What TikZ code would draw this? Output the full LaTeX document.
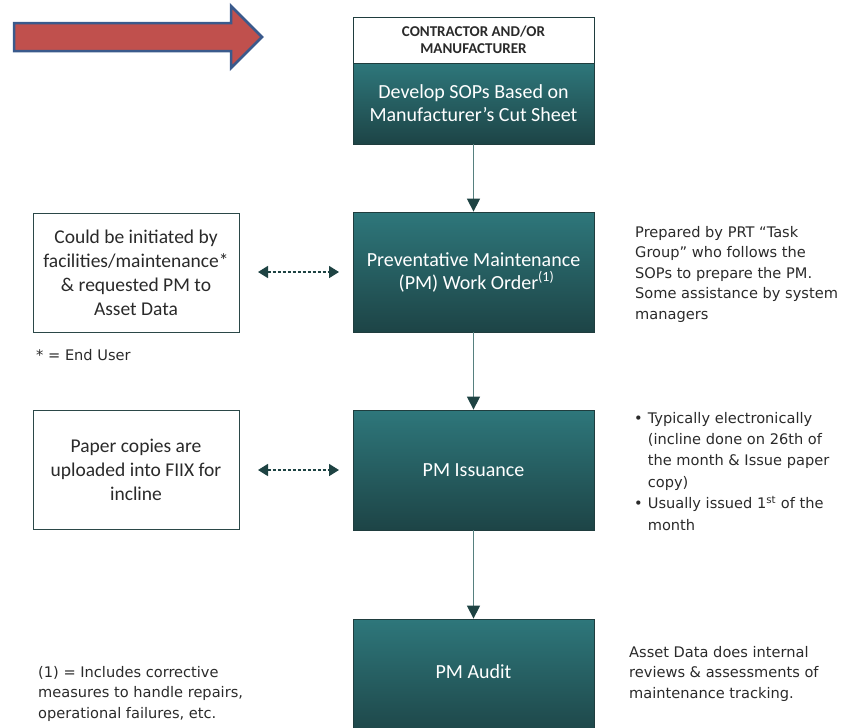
\documentclass[tikz,border=0pt]{standalone}
\usepackage{fontspec}
\setmainfont{Carlito}
\newfontfamily\boxfont{Carlito}
\newfontfamily\notefont{DejaVu Sans}
\usetikzlibrary{arrows.meta,positioning}
\definecolor{tealtop}{HTML}{2E777B}
\definecolor{tealbot}{HTML}{1D4446}
\definecolor{tealedge}{HTML}{1F3D3E}
\definecolor{tipc}{HTML}{1E4343}
\definecolor{linec}{HTML}{56807F}
\definecolor{boxedge}{HTML}{2B4848}
\definecolor{notec}{HTML}{2A2A2A}
\definecolor{arrred}{HTML}{C0504D}
\definecolor{arrblue}{HTML}{3A5A8C}
\tikzset{
  tealbox/.style={draw=tealedge, line width=0.8pt, top color=tealtop, bottom color=tealbot,
    minimum width=241pt, inner sep=0pt, text=white, align=center,
    font=\boxfont\fontsize{20}{23}\selectfont},
  headbox/.style={draw=tealedge, line width=0.8pt, fill=white, minimum width=241pt,
    minimum height=46pt, inner sep=0pt, align=center, text=notec,
    font=\boxfont\bfseries\fontsize{15}{17.5}\selectfont},
  sidebox/.style={draw=boxedge, line width=1pt, fill=white, minimum width=206pt,
    minimum height=119pt, inner sep=0pt, align=center, text=notec,
    font=\boxfont\fontsize{19.5}{24}\selectfont},
  note/.style={anchor=base west, inner sep=0pt, text=notec,
    font=\notefont\fontsize{14.6}{20.5}\selectfont},
  flow/.style={draw=linec, line width=1.4pt, -{Triangle[width=13pt,length=13pt,color=tipc]}},
  link/.style={draw=tipc, line width=1.6pt, dash pattern=on 3pt off 2pt,
    {Triangle[width=12pt,length=10pt,color=tipc]}-{Triangle[width=12pt,length=10pt,color=tipc]}}
}
\newcommand{\nbul}{\textbullet}
\begin{document}
\begin{tikzpicture}[x=1pt,y=-1pt]
\useasboundingbox (0,0) rectangle (854,728);
\clip (0,0) rectangle (854,728);
% big arrow
\draw[draw=arrblue, fill=arrred, line width=2.5pt, line join=miter]
  (14,23) -- (231,23) -- (231,6) -- (262,37) -- (231,68) -- (231,51) -- (14,51) -- cycle;
% main column
\node[headbox] (head) at (473.5,40) {CONTRACTOR AND/OR\\MANUFACTURER};
\node[tealbox, minimum height=81pt] (sop) at (473.5,103.5) {Develop SOPs Based on\\Manufacturer’s Cut Sheet};
\node[tealbox, minimum height=120pt] (pmwo) at (473.5,272) {Preventative Maintenance\\\hspace*{6pt}(PM) Work Order\textsuperscript{(1)}};
\node[tealbox, minimum height=120pt] (iss) at (473.5,470) {PM Issuance};
\node[tealbox, minimum height=120pt] (audit) at (473.5,679) {};
\node[text=white, inner sep=0pt, font=\boxfont\fontsize{20}{23}\selectfont] (audittxt) at (473.5,672) {PM Audit};
\draw[flow] (sop.south) -- (pmwo.north);
\draw[flow] (pmwo.south) -- (iss.north);
\draw[flow] (iss.south) -- (audit.north);
% side boxes
\node[sidebox] (init) at (136,272.5) {Could be initiated by\\facilities/maintenance*\\\& requested PM to\\Asset Data};
\node[sidebox] (paper) at (136,470) {Paper copies are\\uploaded into FIIX for\\incline};
\coordinate (l1a) at (258,272);
\coordinate (l1b) at (339,272);
\coordinate (l2a) at (258,470);
\coordinate (l2b) at (339,470);
\draw[link] (l1a) -- (l1b);
\draw[link] (l2a) -- (l2b);
% notes
\node[note] (enduser) at (36,360) {* = End User};
\node[note] (prep) at (635,237) {\begin{tabular}[t]{@{}l@{}}Prepared by PRT “Task\\Group” who follows the\\SOPs to prepare the PM.\\Some assistance by system\\managers\end{tabular}};
\node[note, font=\notefont\fontsize{14.6}{21.4}\selectfont] (bul) at (634,423) {\begin{tabular}[t]{@{}l@{\hspace{5pt}}l@{}}\nbul & Typically electronically\\ & (incline done on 26th of\\ & the month \& Issue paper\\ & copy)\\ \nbul & Usually issued 1\textsuperscript{st} of the\\ & month\end{tabular}};
\node[note] (foot) at (38,677) {\begin{tabular}[t]{@{}l@{}}(1) = Includes corrective\\measures to handle repairs,\\operational failures, etc.\end{tabular}};
\node[note] (audnote) at (629,657) {\begin{tabular}[t]{@{}l@{}}Asset Data does internal\\reviews \& assessments of\\maintenance tracking.\end{tabular}};
\end{tikzpicture}
\end{document}
